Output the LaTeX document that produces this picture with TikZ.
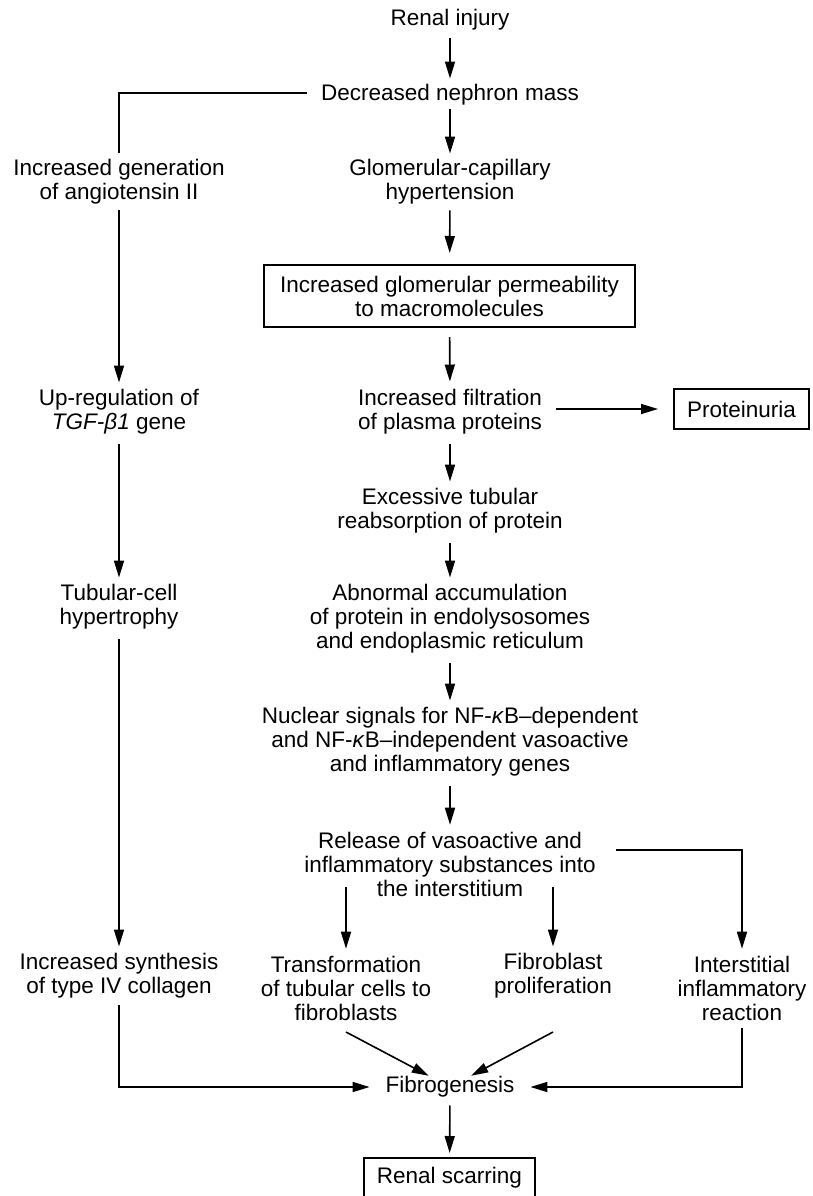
\documentclass[tikz,border=0pt]{standalone}
\usepackage{fontspec}
\setmainfont{Liberation Sans}
\usetikzlibrary{arrows.meta,calc}
\begin{document}
\begin{tikzpicture}[x=1pt,y=-1pt,
  txt/.style={align=center,inner sep=0pt,outer sep=0pt,font=\fontsize{22.5}{24}\selectfont},
  boxed/.style={txt,draw,line width=1.7pt},
  arr/.style={line width=1.6pt,-{Triangle[length=17pt,width=10pt]}},
  ln/.style={line width=1.6pt}]
\useasboundingbox (0,0) rectangle (812,1196);
% nodes
\node[txt] (ri)  at (450,20)  {Renal injury};
\node[txt] (dnm) at (450,95)  {Decreased nephron mass};
\node[txt] (gch) at (450,182) {Glomerular-capillary\\hypertension};
\node[txt] (ang) at (119,182) {Increased generation\\of angiotensin II};
\node[boxed,minimum width=371pt,minimum height=62pt] (igp) at (449.5,296) {Increased glomerular permeability\\to macromolecules};
\node[txt] (upr) at (119,412) {Up-regulation of\\\textit{TGF-β1} gene};
\node[txt] (ifp) at (450,412) {Increased filtration\\of plasma proteins};
\node[boxed,minimum width=135pt,minimum height=40pt] (prot) at (741.5,409) {Proteinuria};
\node[txt] (etr) at (450,511) {Excessive tubular\\reabsorption of protein};
\node[txt] (tch) at (119,607) {Tubular-cell\\hypertrophy};
\node[txt] (aac) at (450,619) {Abnormal accumulation\\of protein in endolysosomes\\and endoplasmic reticulum};
\node[txt] (nuc) at (450,742) {Nuclear signals for NF-\textit{κ}B–dependent\\and NF-\textit{κ}B–independent vasoactive\\and inflammatory genes};
\node[txt] (rel) at (450,864) {Release of vasoactive and\\inflammatory substances into\\the interstitium};
\node[txt] (syn) at (119,976) {Increased synthesis\\of type IV collagen};
\node[txt] (tr)  at (346,988) {Transformation\\of tubular cells to\\fibroblasts};
\node[txt] (fp)  at (553,976) {Fibroblast\\proliferation};
\node[txt] (iir) at (742,988) {Interstitial\\inflammatory\\reaction};
\node[txt] (fib) at (450,1087) {Fibrogenesis};
\node[boxed,minimum width=171pt,minimum height=40pt] (rs) at (449.5,1178) {Renal scarring};
% helper coordinates
\coordinate (dnmL) at (307,93);
\coordinate (angT) at (119,153);
\coordinate (relR) at (616,850);
\coordinate (r1) at (346,887);
\coordinate (r2) at (553,887);
\coordinate (d1) at (346,1032);
\coordinate (d2) at (553,1032);
\coordinate (synB) at (119,1005);
\coordinate (iirB) at (742,1028);
% connectors
\draw[arr,shorten <=8pt,shorten >=6pt] (ri) -- (dnm);
\draw[arr,shorten <=4pt,shorten >=6pt] (dnm) -- (gch);
\draw[ln] (dnmL) -| (angT);
\draw[arr,shorten <=6pt,shorten >=12pt] (gch) -- (igp);
\draw[arr,shorten <=10pt,shorten >=8pt] (igp) -- (ifp);
\draw[arr,shorten <=6pt,shorten >=7pt] (ang) -- (upr);
\draw[arr,shorten <=14pt,shorten >=16pt] (ifp.east |- prot.west) -- (prot.west);
\draw[arr,shorten <=10pt,shorten >=7pt] (ifp) -- (etr);
\draw[arr,shorten <=10pt,shorten >=7pt] (etr) -- (aac);
\draw[arr,shorten <=10pt,shorten >=7pt] (upr) -- (tch);
\draw[arr,shorten <=10pt,shorten >=7pt] (aac) -- (nuc);
\draw[arr,shorten <=10pt,shorten >=7pt] (nuc) -- (rel);
\draw[arr,shorten <=10pt,shorten >=7pt] (tch) -- (syn);
\draw[arr,shorten >=7pt] (relR) -| (iir.north);
\draw[arr,shorten >=7pt] (r1) -- (tr);
\draw[arr,shorten >=7pt] (r2) -- (fp);
\draw[arr,shorten >=16pt] (synB) |- (fib.west);
\draw[arr,shorten >=16pt] (iirB) |- (fib.east);
\draw[arr,shorten >=24pt] (d1) -- (fib.center);
\draw[arr,shorten >=24pt] (d2) -- (fib.center);
\draw[arr,shorten <=8pt,shorten >=5pt] (fib) -- (rs);
\end{tikzpicture}
\end{document}
